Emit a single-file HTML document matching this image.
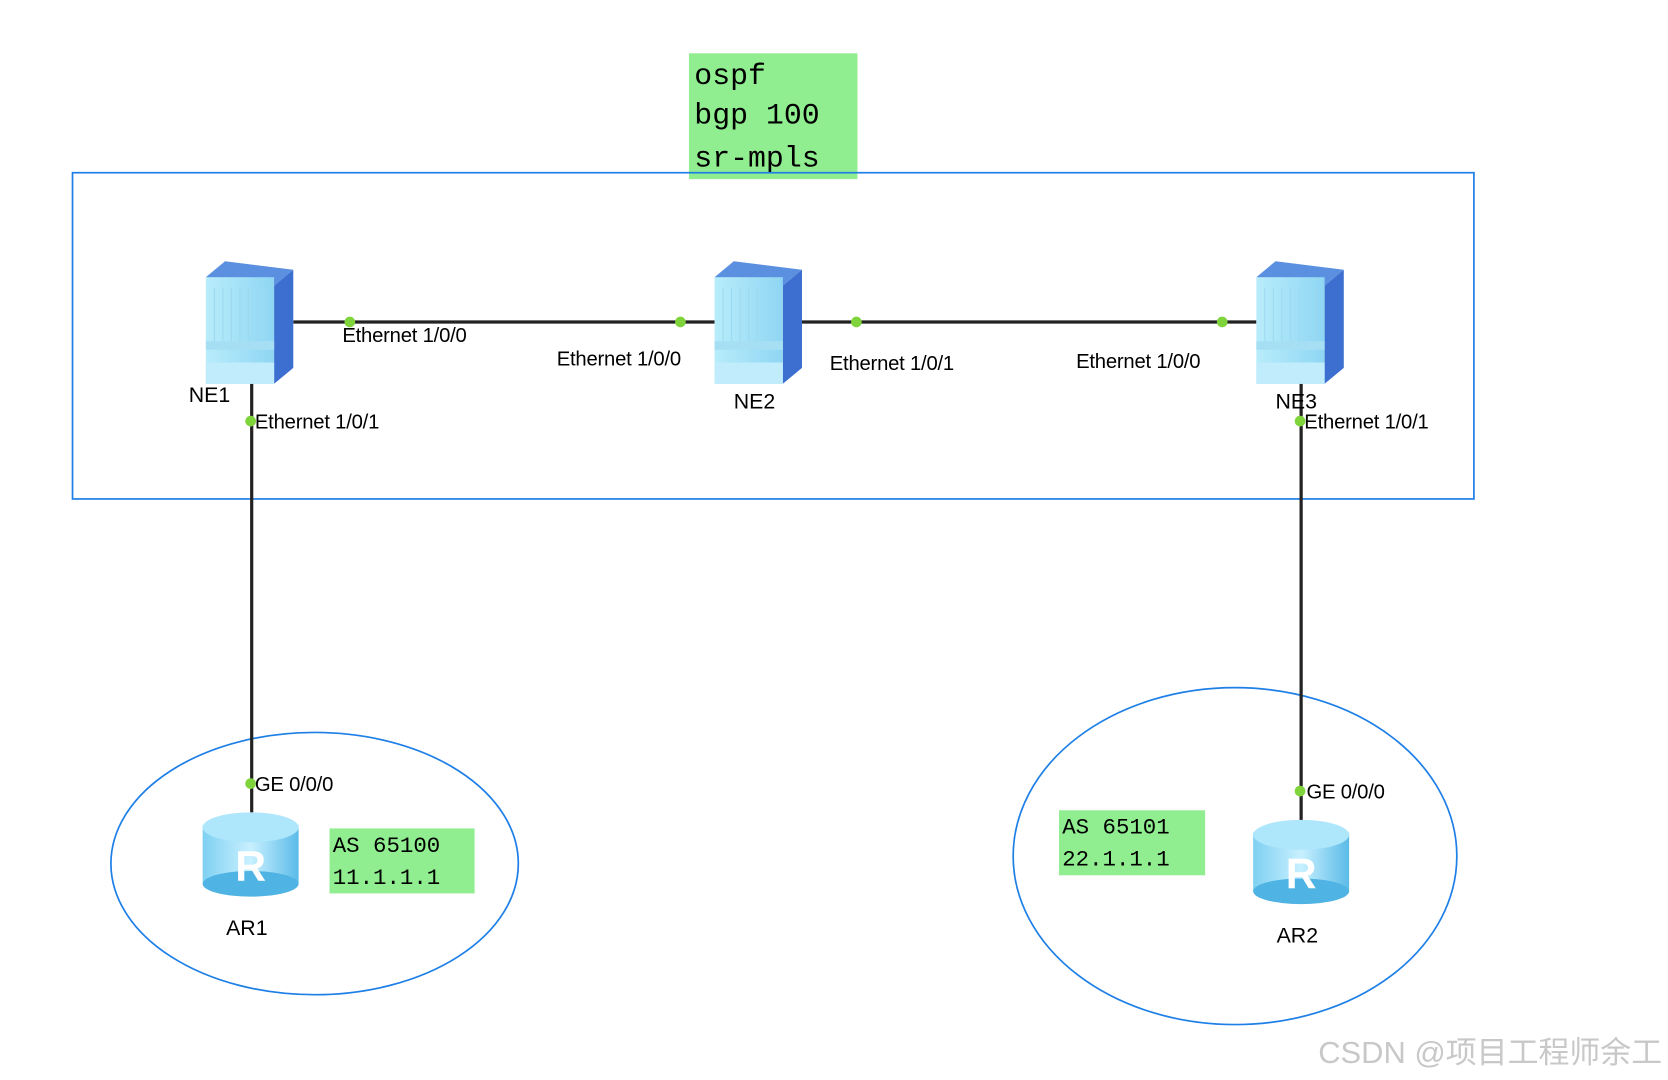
<!DOCTYPE html>
<html><head><meta charset="utf-8"><style>html,body{margin:0;padding:0;background:#fff;}svg{display:block}</style></head>
<body>
<svg width="1668" height="1080" viewBox="0 0 1564 1013" preserveAspectRatio="none" xmlns="http://www.w3.org/2000/svg">
<defs>
<linearGradient id="sf" x1="0" x2="1"><stop offset="0" stop-color="#b8ecfb"/><stop offset="1" stop-color="#8fd6f3"/></linearGradient>
<linearGradient id="rt" x1="0" x2="1"><stop offset="0" stop-color="#7fd0f2"/><stop offset="0.5" stop-color="#c8f0ff"/><stop offset="1" stop-color="#5bbbe8"/></linearGradient>
<g id="sw">
<polygon points="0,15 18,0 82,8 64,23" fill="#5b8fe0"/>
<polygon points="64,23 82,8 82,100 64,115" fill="#3d6fd0"/>
<rect x="0" y="15" width="64" height="100" fill="url(#sf)"/>
<g stroke="#9cd9ee" stroke-width="1"><line x1="8" y1="25" x2="8" y2="75"/><line x1="16" y1="25" x2="16" y2="75"/><line x1="24" y1="25" x2="24" y2="75"/><line x1="32" y1="25" x2="32" y2="75"/><line x1="40" y1="25" x2="40" y2="75"/><line x1="48" y1="25" x2="48" y2="75"/><line x1="56" y1="25" x2="56" y2="75"/></g>
<rect x="0" y="75" width="64" height="8" fill="#a6dff4"/>
<rect x="0" y="95" width="64" height="20" fill="#c0ecfb"/>
</g>
<g id="rtr">
<rect x="-45" y="12" width="90" height="55" fill="url(#rt)"/>
<ellipse cx="0" cy="67" rx="45" ry="12" fill="#4fb3e3"/>
<ellipse cx="0" cy="14" rx="45" ry="14" fill="#aee6fb"/>
<text x="0" y="64" font-family="Liberation Sans, sans-serif" font-size="40" font-weight="bold" fill="#fff" text-anchor="middle">R</text>
</g>
</defs>
<rect x="646" y="50" width="158" height="118" fill="#90ee90"/>
<g font-family="Liberation Mono, monospace" font-size="28" fill="#000">
<text x="651" y="79">ospf</text><text x="651" y="116">bgp 100</text><text x="651" y="156">sr-mpls</text></g>
<rect x="68" y="162" width="1314" height="306" fill="none" stroke="#1e7fe6" stroke-width="1.6"/>
<ellipse cx="295" cy="810" rx="191" ry="123" fill="none" stroke="#1e7fe6" stroke-width="1.6"/>
<ellipse cx="1158" cy="803" rx="208" ry="158" fill="none" stroke="#1e7fe6" stroke-width="1.6"/>
<g stroke="#222" stroke-width="3">
<line x1="275" y1="302" x2="670" y2="302"/><line x1="750" y1="302" x2="1178" y2="302"/>
<line x1="236" y1="360" x2="236" y2="762"/><line x1="1220" y1="360" x2="1220" y2="770"/></g>
<use href="#sw" x="193" y="245"/><use href="#sw" x="670" y="245"/><use href="#sw" x="1178" y="245"/>
<use href="#rtr" x="235" y="762"/><use href="#rtr" x="1220" y="769"/>
<g fill="#7ed43a"><circle cx="328" cy="302" r="5"/><circle cx="638" cy="302" r="5"/><circle cx="803" cy="302" r="5"/><circle cx="1146" cy="302" r="5"/><circle cx="235" cy="395" r="5"/><circle cx="1219" cy="395" r="5"/><circle cx="235" cy="735" r="5"/><circle cx="1219" cy="742" r="5"/></g>
<g font-family="Liberation Sans, sans-serif" font-size="19" fill="#000" letter-spacing="-0.2">
<text x="321" y="321">Ethernet 1/0/0</text><text x="522" y="343">Ethernet 1/0/0</text>
<text x="778" y="347">Ethernet 1/0/1</text><text x="1009" y="345">Ethernet 1/0/0</text>
<text x="239" y="402">Ethernet 1/0/1</text><text x="1223" y="402">Ethernet 1/0/1</text>
<text x="239" y="742">GE 0/0/0</text><text x="1225" y="749">GE 0/0/0</text></g>
<g font-family="Liberation Sans, sans-serif" font-size="20" fill="#000">
<text x="177" y="377">NE1</text><text x="688" y="383">NE2</text><text x="1196" y="383">NE3</text>
<text x="212" y="877">AR1</text><text x="1197" y="884">AR2</text></g>
<rect x="309" y="777" width="136" height="61" fill="#90ee90"/>
<rect x="993" y="760" width="137" height="61" fill="#90ee90"/>
<g font-family="Liberation Mono, monospace" font-size="21" fill="#000">
<text x="312" y="799">AS 65100</text><text x="312" y="829">11.1.1.1</text>
<text x="996" y="782">AS 65101</text><text x="996" y="812">22.1.1.1</text></g>
<text x="1236" y="997" font-family="Liberation Sans, 'Noto Sans CJK SC', sans-serif" font-size="29" fill="#c8c8c8">CSDN @项目工程师余工</text>
</svg>
</body></html>
